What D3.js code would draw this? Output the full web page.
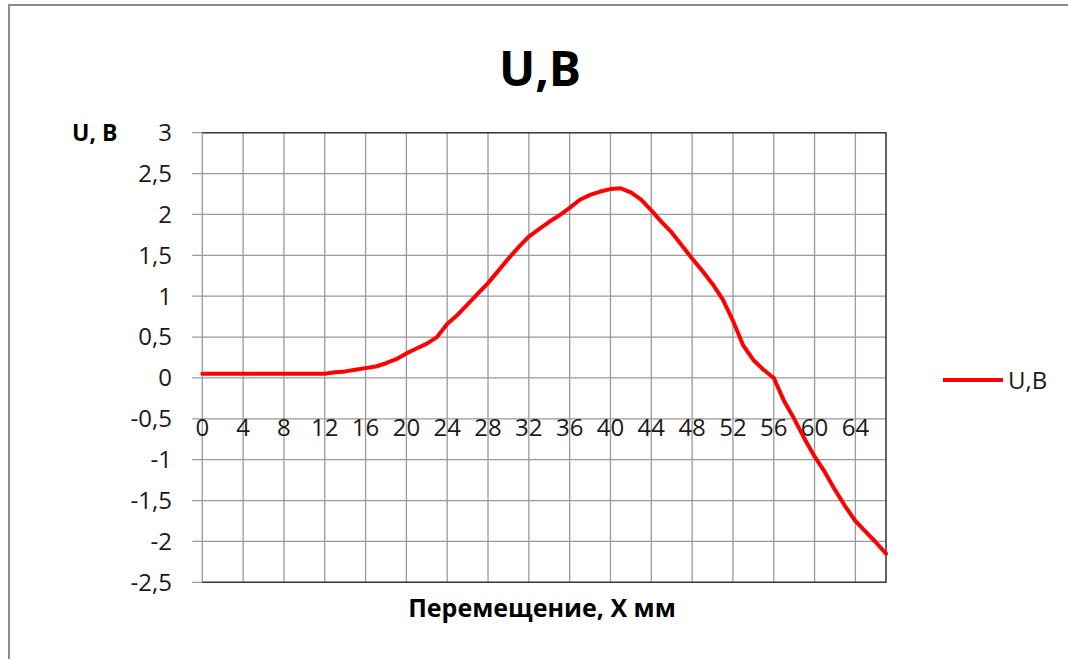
<!DOCTYPE html>
<html>
<head>
<meta charset="utf-8">
<script src="https://cdn.jsdelivr.net/npm/d3@7"></script>
<style>
  body { margin: 0; background: #fff; }
  svg { display: block; font-family: "Open Sans", "Noto Sans", sans-serif; }
</style>
</head>
<body>
<svg id="chart"></svg>
<script>
const svgWidth = 1068,
    svgHeight = 659;

// plot area (pixels)
const plot = {left: 202.3, right: 886, top: 132.7, bottom: 582.3};

// categories: displacement X, mm
const xValues = [0, 1, 2, 3, 4, 5, 6, 7, 8, 9, 10, 11, 12, 13, 14, 15, 16, 17, 18, 19,
    20, 21, 22, 23, 24, 25, 26, 27, 28, 29, 30, 31, 32, 33, 34, 35, 36, 37, 38, 39,
    40, 41, 42, 43, 44, 45, 46, 47, 48, 49, 50, 51, 52, 53, 54, 55, 56, 57, 58, 59,
    60, 61, 62, 63, 64, 65, 66, 67];

// series U,B
const uValues = [0.05, 0.05, 0.05, 0.05, 0.05, 0.05, 0.05, 0.05, 0.05, 0.05,
    0.05, 0.05, 0.05, 0.07, 0.08, 0.10, 0.12, 0.14, 0.18, 0.23,
    0.30, 0.36, 0.42, 0.50, 0.66, 0.77, 0.90, 1.03, 1.16, 1.31,
    1.46, 1.60, 1.73, 1.82, 1.91, 1.99, 2.08, 2.18, 2.24, 2.28,
    2.31, 2.32, 2.27, 2.18, 2.05, 1.91, 1.78, 1.62, 1.46, 1.31,
    1.15, 0.96, 0.70, 0.40, 0.22, 0.10, 0.00, -0.28, -0.50, -0.74,
    -0.96, -1.15, -1.37, -1.57, -1.75, -1.88, -2.01, -2.15];

const xTickValues = [0, 4, 8, 12, 16, 20, 24, 28, 32, 36, 40, 44, 48, 52, 56, 60, 64];
const yTickValues = [3, 2.5, 2, 1.5, 1, 0.5, 0, -0.5, -1, -1.5, -2, -2.5];

const titleText = "U,B";
const yTitleText = "U, B";
const xTitleText = "Перемещение, X мм";
const seriesName = "U,B";

const chart = d3.select('#chart')
    .attr("width", svgWidth)
    .attr("height", svgHeight);

var xScale = d3.scaleLinear().domain([0, 67]).range([plot.left, plot.right]);
var yScale = d3.scaleLinear().domain([-2.5, 3]).range([plot.bottom, plot.top]);

var commaFormat = function(v){ return String(v).replace(".", ","); };

// chart area border
chart.append("rect")
    .attr("x", 9).attr("y", 5)
    .attr("width", svgWidth + 20).attr("height", svgHeight + 20)
    .attr("fill", "none")
    .attr("stroke", "#8c8c8c")
    .attr("stroke-width", 2);

// horizontal gridlines + y ticks
chart.append("g")
    .selectAll("line")
    .data(yTickValues)
    .enter()
    .append("line")
    .attr("x1", plot.left - 10)
    .attr("x2", plot.right)
    .attr("y1", d => yScale(d))
    .attr("y2", d => yScale(d))
    .attr("stroke", "#9a9a9a")
    .attr("stroke-width", 1.3);

// vertical gridlines
chart.append("g")
    .selectAll("line")
    .data(xTickValues)
    .enter()
    .append("line")
    .attr("x1", d => xScale(d))
    .attr("x2", d => xScale(d))
    .attr("y1", plot.top)
    .attr("y2", plot.bottom)
    .attr("stroke", "#9a9a9a")
    .attr("stroke-width", 1.3);

// plot border (top / right / bottom darker)
chart.append("path")
    .attr("d", "M" + plot.left + "," + plot.top + "H" + plot.right + "V" + plot.bottom + "H" + plot.left)
    .attr("fill", "none")
    .attr("stroke", "#3c3c3c")
    .attr("stroke-width", 1.6);

// y tick labels
chart.append("g")
    .selectAll("text")
    .data(yTickValues)
    .enter()
    .append("text")
    .attr("x", 172)
    .attr("y", d => yScale(d))
    .attr("dy", "0.35em")
    .attr("text-anchor", "end")
    .style("font-size", "24px")
    .style("fill", "#1a1a1a")
    .text(commaFormat);

// x tick labels (drawn over the chart, below the zero line)
chart.append("g")
    .selectAll("text")
    .data(xTickValues)
    .enter()
    .append("text")
    .attr("x", d => xScale(d))
    .attr("y", 428)
    .attr("dy", "0.35em")
    .attr("text-anchor", "middle")
    .style("font-size", "24px")
    .style("fill", "#1a1a1a")
    .text(d => d);

// the line
var valueline = d3.line()
    .x(function(d){ return xScale(d.x); })
    .y(function(d){ return yScale(d.u); })
    .curve(d3.curveLinear);

chart.append("path")
    .datum(xValues.map((x, i) => ({x: x, u: uValues[i]})))
    .attr("d", valueline)
    .attr("fill", "none")
    .attr("stroke", "#ff0000")
    .attr("stroke-width", 4)
    .attr("stroke-linejoin", "round")
    .attr("stroke-linecap", "round");

// titles
chart.append("text")
    .attr("x", 540).attr("y", 86)
    .attr("text-anchor", "middle")
    .style("font-size", "48px")
    .style("font-weight", "bold")
    .text(titleText);

chart.append("text")
    .attr("x", 72).attr("y", 133)
    .attr("dy", "0.35em")
    .style("font-size", "23px")
    .style("font-weight", "bold")
    .text(yTitleText);

chart.append("text")
    .attr("x", 542).attr("y", 617)
    .attr("text-anchor", "middle")
    .style("font-size", "25px")
    .style("font-weight", "bold")
    .text(xTitleText);

// legend
var legend = chart.append("g");
legend.append("line")
    .attr("x1", 943).attr("x2", 1003)
    .attr("y1", 380).attr("y2", 380)
    .attr("stroke", "#ff0000")
    .attr("stroke-width", 4);
legend.append("text")
    .attr("x", 1008).attr("y", 381)
    .attr("dy", "0.35em")
    .style("font-size", "24px")
    .style("fill", "#1a1a1a")
    .text(seriesName);
</script>
</body>
</html>
